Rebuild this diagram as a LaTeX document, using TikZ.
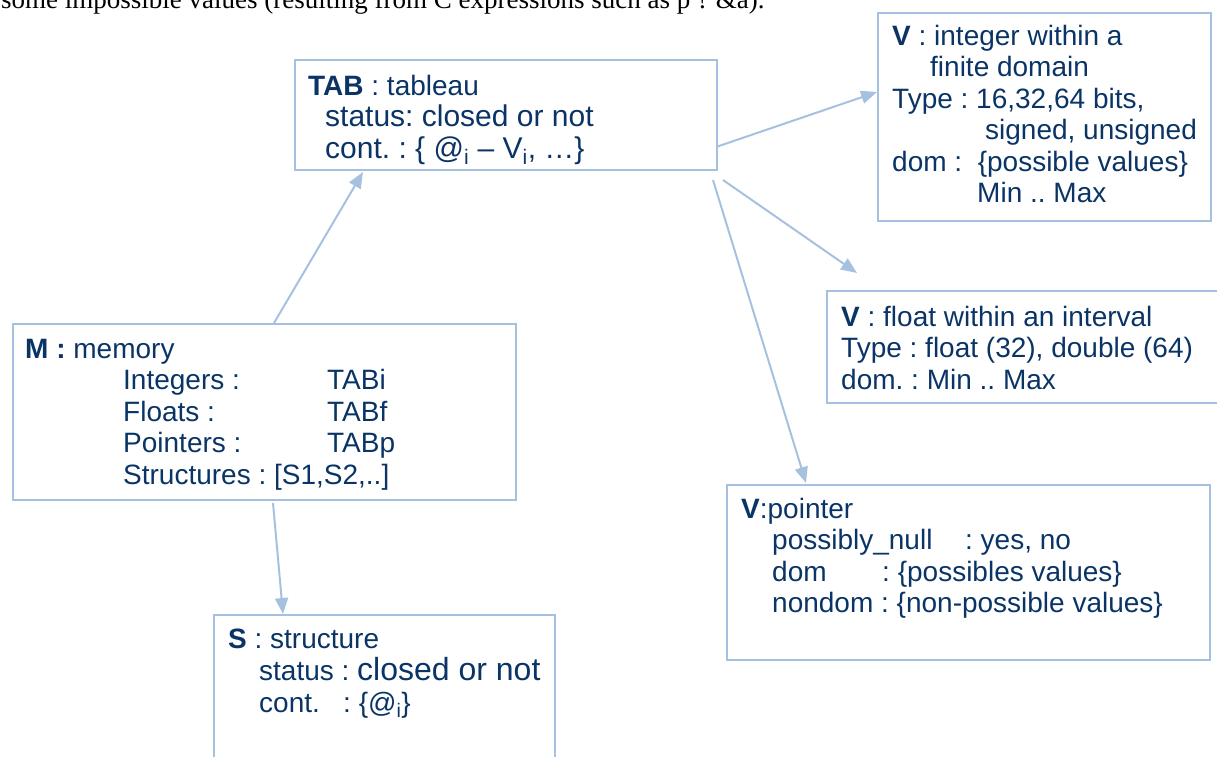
\documentclass[tikz,border=0pt]{standalone}
\usepackage{fontspec}
\setmainfont{Liberation Sans}
\newfontfamily\docserif{Liberation Serif}
\usetikzlibrary{arrows.meta,calc}
\definecolor{lineblue}{RGB}{166,193,224}
\definecolor{navy}{RGB}{10,52,102}
\newcommand\boxlines[1]{\begin{tabular}[t]{@{}l@{}}#1\end{tabular}}
\frenchspacing
\begin{document}
\begin{tikzpicture}[x=1pt,y=-1pt,
  box/.style={draw=lineblue, line width=2pt, rectangle, anchor=north west, inner sep=0pt},
  txt/.style={anchor=base west, inner sep=0pt, text=navy, font=\fontsize{28}{31.5}\selectfont\frenchspacing},
  conn/.style={draw=lineblue, line width=2pt, -{Triangle[length=16pt,width=13pt]}},
]
\useasboundingbox (0,0) rectangle (1217,756);

% cut-off line of the surrounding document
\node[anchor=base west, inner sep=0pt, font=\docserif\fontsize{27}{30}\selectfont] (doc) at (1,8)
  {some impossible values (resulting from C expressions such as p ? \&a).};

% boxes
\node[box, minimum width=422pt, minimum height=110pt] (TAB) at (294,59) {};
\node[box, minimum width=333pt, minimum height=208pt] (Vint) at (877,12) {};
\node[box, minimum width=400pt, minimum height=112pt] (Vfloat) at (826,290) {};
\node[box, minimum width=503pt, minimum height=176pt] (M) at (12,323) {};
\node[box, minimum width=341pt, minimum height=160pt] (S) at (213,614) {};
\node[box, minimum width=483pt, minimum height=175pt] (Vptr) at (726,484) {};

% texts
\node[txt] (TABt) at (308,95) {\boxlines{%
  \textbf{TAB} : tableau\\
  \hspace*{17pt}{\fontsize{30}{31.5}\selectfont status: closed or not}\\
  \hspace*{17pt}{\fontsize{30}{31.5}\selectfont cont. : \{ @\textsubscript{i} – V\textsubscript{i}, …\}}}};

\node[txt] (Vintt) at (892,45) {\boxlines{%
  \textbf{V} : integer within a\\
  \hspace*{38pt}finite domain\\
  Type : 16,32,64 bits,\\
  \hspace*{93pt}signed, unsigned\\
  dom :\ \ \{possible values\}\\
  \hspace*{85pt}Min .. Max}};

\node[txt] (Vfloatt) at (841,326) {\boxlines{%
  \textbf{V} : float within an interval\\
  Type : float (32), double (64)\\
  dom. : Min .. Max}};

\node[txt] (Mt) at (25,358) {\boxlines{%
  \textbf{M :} memory\\
  \hspace*{98pt}\makebox[204pt][l]{Integers :}TABi\\
  \hspace*{98pt}\makebox[204pt][l]{Floats :}TABf\\
  \hspace*{98pt}\makebox[204pt][l]{Pointers :}TABp\\
  \hspace*{98pt}Structures : [S1,S2,..]}};

\node[txt] (St) at (228,648) {\boxlines{%
  \textbf{S} : structure\\
  \hspace*{31pt}status : {\fontsize{32}{31.5}\selectfont closed or not}\\
  \hspace*{31pt}cont.\ \ \ : \{@\textsubscript{i}\}}};

\node[txt] (Vptrt) at (741,518) {\boxlines{%
  \textbf{V}:pointer\\
  \hspace*{31pt}\makebox[193pt][l]{possibly\_null}: yes, no\\
  \hspace*{31pt}\makebox[110pt][l]{dom}: \{possibles values\}\\
  \hspace*{31pt}nondom : \{non-possible values\}}};

% connector ends
\coordinate (m1) at (274,323);
\coordinate (t1) at (363,172);
\coordinate (t2) at (716,147);
\coordinate (vi) at (877,92);
\coordinate (t3) at (723,180);
\coordinate (vf) at (857,273);
\coordinate (t4) at (713,180);
\coordinate (vp) at (806,483);
\coordinate (m2) at (273,503);
\coordinate (s1) at (283,614);

\draw[conn] (m1) -- (t1);
\draw[conn] (t2) -- (vi);
\draw[conn] (t3) -- (vf);
\draw[conn] (t4) -- (vp);
\draw[conn] (m2) -- (s1);
\end{tikzpicture}
\end{document}
